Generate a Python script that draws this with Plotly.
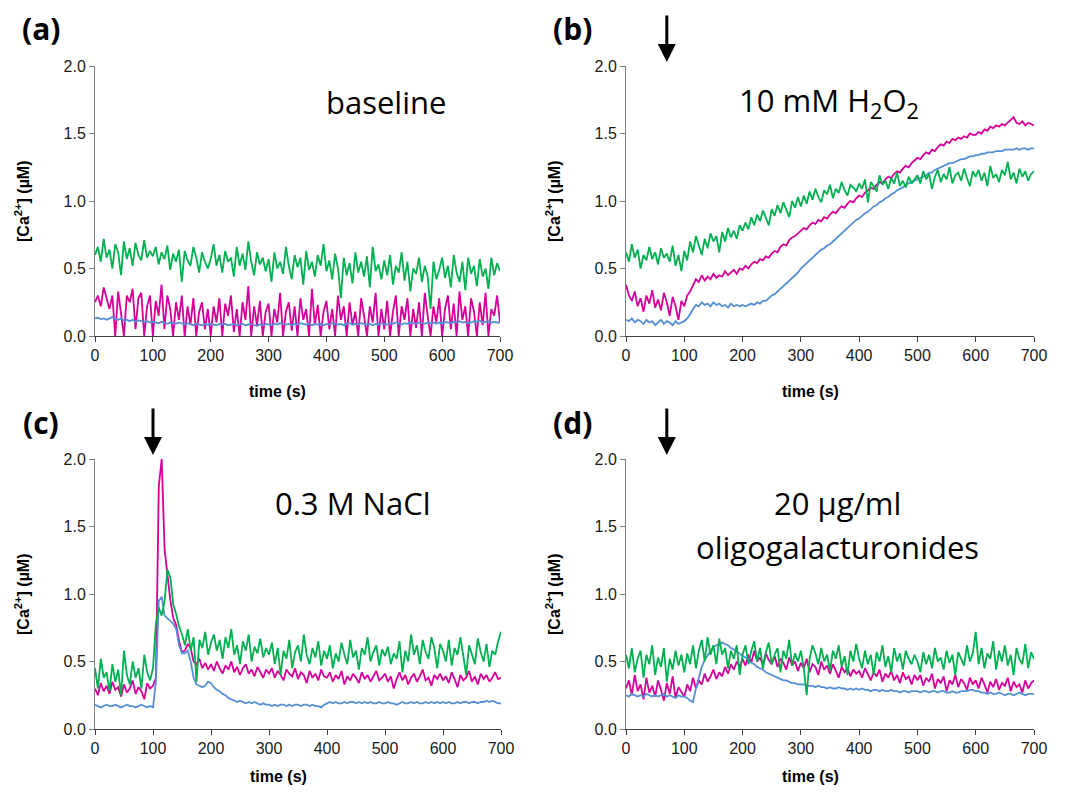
import plotly.graph_objects as go

# time grid (s)
time_s = list(range(0, 705, 5))

# ---------- (a) baseline ----------
a_green = [0.60,0.66,0.55,0.72,0.58,0.64,0.50,0.68,0.62,0.45,0.70,0.57,0.65,0.52,0.69,0.60,0.56,0.71,0.58,0.63,
           0.59,0.66,0.53,0.62,0.57,0.67,0.49,0.61,0.55,0.64,0.40,0.63,0.56,0.52,0.66,0.58,0.47,0.62,0.55,0.50,
           0.57,0.68,0.52,0.60,0.47,0.63,0.55,0.58,0.44,0.66,0.52,0.61,0.49,0.70,0.55,0.45,0.62,0.53,0.58,0.48,
           0.57,0.40,0.62,0.50,0.55,0.46,0.66,0.52,0.42,0.60,0.51,0.58,0.38,0.63,0.49,0.55,0.44,0.60,0.52,0.68,
           0.48,0.56,0.42,0.61,0.50,0.28,0.58,0.45,0.54,0.39,0.62,0.47,0.55,0.44,0.59,0.36,0.66,0.48,0.53,0.42,
           0.56,0.45,0.60,0.38,0.52,0.47,0.62,0.41,0.55,0.33,0.50,0.46,0.58,0.40,0.52,0.44,0.20,0.55,0.42,0.49,
           0.58,0.43,0.52,0.36,0.60,0.47,0.40,0.55,0.34,0.58,0.46,0.52,0.37,0.57,0.44,0.50,0.35,0.58,0.45,0.54,
           0.48]
a_magenta = [0.25,0.30,0.22,0.36,0.28,0.20,0.30,0.00,0.33,0.18,0.00,0.30,0.25,0.35,0.05,0.28,0.32,0.00,0.22,0.30,
             0.00,0.26,0.15,0.38,0.05,0.30,0.20,0.00,0.25,0.12,0.30,0.00,0.22,0.08,0.28,0.00,0.18,0.25,0.05,0.20,
             0.00,0.22,0.10,0.28,0.00,0.24,0.15,0.30,0.03,0.20,0.00,0.25,0.12,0.37,0.00,0.22,0.08,0.26,0.00,0.18,
             0.24,0.00,0.20,0.10,0.32,0.00,0.18,0.25,0.04,0.22,0.00,0.28,0.12,0.20,0.00,0.35,0.08,0.23,0.00,0.18,
             0.26,0.05,0.20,0.00,0.30,0.12,0.22,0.00,0.25,0.08,0.18,0.00,0.28,0.15,0.00,0.22,0.10,0.32,0.00,0.20,
             0.05,0.26,0.00,0.18,0.30,0.00,0.22,0.12,0.28,0.00,0.20,0.06,0.25,0.00,0.32,0.15,0.00,0.22,0.10,0.28,
             0.00,0.20,0.30,0.05,0.24,0.00,0.33,0.12,0.22,0.00,0.28,0.18,0.00,0.25,0.08,0.32,0.00,0.20,0.15,0.30,
             0.10]
a_blue = [0.13,0.135,0.125,0.13,0.12,0.13,0.14,0.125,0.12,0.13,0.115,0.12,0.11,0.12,0.105,0.115,0.11,0.105,0.11,0.10,
          0.105,0.10,0.095,0.105,0.10,0.09,0.10,0.095,0.09,0.10,0.09,0.085,0.095,0.09,0.08,0.09,0.085,0.08,0.09,0.085,
          0.09,0.085,0.08,0.09,0.085,0.09,0.08,0.085,0.09,0.08,0.085,0.09,0.08,0.085,0.09,0.08,0.075,0.085,0.08,0.09,
          0.085,0.08,0.09,0.085,0.095,0.09,0.085,0.09,0.08,0.09,0.085,0.095,0.09,0.085,0.09,0.08,0.09,0.085,0.09,0.08,
          0.09,0.085,0.095,0.09,0.085,0.09,0.08,0.09,0.095,0.085,0.09,0.085,0.095,0.09,0.085,0.09,0.08,0.09,0.085,0.095,
          0.09,0.085,0.095,0.09,0.10,0.09,0.085,0.095,0.09,0.10,0.095,0.09,0.10,0.095,0.09,0.10,0.095,0.10,0.09,0.10,
          0.095,0.105,0.10,0.095,0.105,0.10,0.11,0.10,0.105,0.095,0.10,0.11,0.105,0.115,0.10,0.105,0.11,0.10,0.105,0.10,
          0.10]

# ---------- (b) 10 mM H2O2 ----------
b_green = [0.62,0.55,0.68,0.58,0.64,0.50,0.60,0.56,0.66,0.57,0.62,0.53,0.65,0.58,0.61,0.55,0.67,0.52,0.60,0.48,
           0.63,0.56,0.70,0.62,0.74,0.66,0.60,0.72,0.65,0.76,0.70,0.74,0.62,0.77,0.70,0.80,0.73,0.78,0.72,0.82,
           0.78,0.84,0.79,0.88,0.82,0.90,0.85,0.93,0.87,0.82,0.94,0.89,0.97,0.91,0.99,0.93,0.88,1.00,0.95,1.03,
           0.96,1.04,0.98,1.07,1.01,1.09,1.03,0.99,1.08,1.05,1.12,1.02,1.09,1.06,1.14,1.08,1.04,1.12,1.10,1.07,
           1.13,1.09,1.16,0.99,1.14,1.11,1.07,1.19,1.12,1.15,1.09,1.17,1.13,1.21,1.11,1.15,1.10,1.18,1.13,1.16,
           1.19,1.13,1.22,1.16,1.20,1.09,1.18,1.23,1.14,1.20,1.16,1.25,1.13,1.19,1.21,1.15,1.24,1.17,1.11,1.22,
           1.18,1.23,1.15,1.21,1.11,1.26,1.17,1.20,1.14,1.23,1.19,1.29,1.16,1.21,1.13,1.24,1.18,1.22,1.15,1.20,
           1.22]
b_magenta = [0.38,0.30,0.26,0.33,0.22,0.28,0.18,0.30,0.24,0.34,0.21,0.27,0.19,0.32,0.25,0.15,0.29,0.22,0.12,0.26,
             0.22,0.30,0.33,0.38,0.42,0.40,0.45,0.41,0.44,0.42,0.46,0.43,0.45,0.44,0.48,0.45,0.47,0.49,0.46,0.50,
             0.49,0.52,0.50,0.53,0.55,0.54,0.57,0.56,0.59,0.58,0.61,0.63,0.62,0.66,0.68,0.67,0.71,0.73,0.74,0.76,
             0.78,0.80,0.79,0.82,0.84,0.83,0.86,0.85,0.88,0.87,0.90,0.92,0.91,0.94,0.96,0.95,0.98,1.00,0.99,1.02,
             1.04,1.03,1.06,1.08,1.10,1.09,1.12,1.14,1.13,1.16,1.18,1.17,1.20,1.22,1.21,1.24,1.26,1.25,1.28,1.30,
             1.32,1.31,1.34,1.36,1.35,1.38,1.37,1.40,1.42,1.41,1.44,1.43,1.46,1.45,1.47,1.46,1.48,1.47,1.50,1.49,
             1.49,1.51,1.50,1.53,1.52,1.55,1.54,1.56,1.55,1.57,1.56,1.58,1.60,1.62,1.58,1.57,1.59,1.56,1.58,1.57,
             1.56]
b_blue = [0.12,0.11,0.13,0.10,0.12,0.11,0.09,0.12,0.10,0.11,0.08,0.10,0.12,0.09,0.11,0.10,0.08,0.11,0.09,0.10,
          0.11,0.13,0.16,0.20,0.23,0.22,0.25,0.23,0.24,0.22,0.25,0.23,0.24,0.22,0.23,0.21,0.24,0.22,0.23,0.22,
          0.23,0.22,0.23,0.24,0.23,0.25,0.24,0.26,0.26,0.28,0.30,0.31,0.33,0.35,0.37,0.39,0.41,0.43,0.45,0.47,
          0.50,0.52,0.54,0.56,0.58,0.60,0.62,0.64,0.65,0.67,0.68,0.70,0.72,0.74,0.76,0.78,0.80,0.82,0.84,0.86,
          0.87,0.89,0.91,0.92,0.94,0.96,0.97,0.99,1.00,1.02,1.03,1.05,1.06,1.08,1.09,1.10,1.12,1.13,1.14,1.15,
          1.16,1.17,1.18,1.19,1.21,1.21,1.23,1.24,1.25,1.26,1.27,1.28,1.28,1.29,1.30,1.31,1.31,1.32,1.33,1.33,
          1.34,1.34,1.35,1.35,1.36,1.36,1.36,1.37,1.37,1.37,1.38,1.38,1.38,1.38,1.39,1.38,1.39,1.39,1.38,1.39,
          1.39]

# ---------- (c) 0.3 M NaCl ----------
c_green = [0.45,0.30,0.52,0.38,0.42,0.28,0.48,0.35,0.44,0.25,0.58,0.40,0.33,0.50,0.38,0.45,0.30,0.55,0.42,0.36,
           0.45,0.78,0.90,0.84,0.95,1.18,1.12,0.92,0.85,0.76,0.70,0.62,0.74,0.58,0.68,0.35,0.66,0.60,0.72,0.55,
           0.64,0.70,0.58,0.66,0.52,0.68,0.60,0.74,0.55,0.62,0.48,0.65,0.58,0.70,0.50,0.61,0.56,0.67,0.53,0.60,
           0.55,0.64,0.48,0.60,0.40,0.58,0.52,0.66,0.45,0.57,0.62,0.50,0.70,0.55,0.48,0.60,0.53,0.65,0.47,0.58,
           0.52,0.62,0.45,0.56,0.50,0.64,0.55,0.48,0.66,0.53,0.58,0.44,0.60,0.55,0.68,0.50,0.57,0.62,0.47,0.59,
           0.54,0.61,0.48,0.56,0.52,0.65,0.42,0.58,0.50,0.70,0.55,0.62,0.48,0.66,0.57,0.52,0.68,0.60,0.45,0.63,
           0.58,0.50,0.66,0.47,0.60,0.55,0.68,0.52,0.40,0.62,0.55,0.48,0.67,0.57,0.50,0.63,0.46,0.58,0.55,0.65,
           0.72]
c_magenta = [0.30,0.25,0.34,0.28,0.32,0.26,0.35,0.29,0.31,0.24,0.33,0.27,0.30,0.36,0.26,0.31,0.28,0.22,0.34,0.30,
             0.32,0.38,1.80,2.00,1.33,1.15,0.95,0.82,0.77,0.65,0.57,0.58,0.63,0.60,0.50,0.48,0.52,0.45,0.49,0.44,
             0.48,0.43,0.50,0.45,0.41,0.47,0.44,0.50,0.42,0.46,0.40,0.45,0.48,0.41,0.44,0.39,0.46,0.42,0.38,0.44,
             0.41,0.45,0.38,0.43,0.40,0.36,0.44,0.41,0.39,0.45,0.37,0.42,0.40,0.34,0.43,0.38,0.41,0.36,0.44,0.39,
             0.38,0.42,0.35,0.40,0.37,0.43,0.33,0.39,0.36,0.41,0.38,0.34,0.42,0.37,0.40,0.35,0.39,0.43,0.36,0.38,
             0.41,0.35,0.39,0.30,0.37,0.42,0.36,0.40,0.33,0.38,0.41,0.35,0.39,0.44,0.36,0.38,0.32,0.40,0.37,0.41,
             0.36,0.39,0.34,0.42,0.37,0.31,0.40,0.36,0.38,0.43,0.35,0.39,0.33,0.41,0.37,0.40,0.35,0.38,0.42,0.37,
             0.38]
c_blue = [0.18,0.17,0.16,0.17,0.18,0.17,0.17,0.18,0.17,0.16,0.17,0.18,0.17,0.17,0.16,0.17,0.18,0.17,0.16,0.17,
          0.16,0.35,0.95,0.98,0.84,0.82,0.80,0.78,0.74,0.62,0.56,0.56,0.58,0.50,0.38,0.33,0.32,0.31,0.32,0.35,
          0.34,0.31,0.29,0.28,0.26,0.25,0.23,0.22,0.21,0.20,0.21,0.20,0.19,0.20,0.19,0.20,0.19,0.18,0.19,0.18,
          0.18,0.17,0.18,0.17,0.18,0.18,0.17,0.18,0.17,0.18,0.18,0.17,0.18,0.18,0.17,0.18,0.17,0.17,0.16,0.18,
          0.19,0.20,0.19,0.20,0.19,0.19,0.20,0.19,0.20,0.20,0.19,0.20,0.19,0.20,0.19,0.20,0.19,0.19,0.20,0.19,
          0.19,0.20,0.19,0.19,0.18,0.19,0.20,0.19,0.19,0.20,0.19,0.20,0.19,0.19,0.20,0.19,0.20,0.19,0.20,0.19,
          0.20,0.19,0.20,0.19,0.19,0.20,0.19,0.20,0.20,0.19,0.20,0.20,0.19,0.20,0.20,0.21,0.20,0.21,0.20,0.19,
          0.19]

# ---------- (d) 20 µg/ml oligogalacturonides ----------
d_green = [0.55,0.45,0.60,0.42,0.52,0.58,0.38,0.55,0.48,0.62,0.40,0.53,0.46,0.60,0.35,0.52,0.44,0.58,0.47,0.55,
           0.42,0.56,0.48,0.62,0.45,0.58,0.66,0.50,0.68,0.55,0.62,0.48,0.67,0.55,0.60,0.45,0.58,0.52,0.62,0.40,
           0.55,0.62,0.48,0.58,0.65,0.50,0.60,0.45,0.57,0.64,0.48,0.55,0.60,0.42,0.58,0.52,0.66,0.47,0.56,0.50,
           0.58,0.45,0.25,0.52,0.62,0.56,0.48,0.60,0.50,0.55,0.43,0.58,0.52,0.62,0.46,0.54,0.40,0.58,0.50,0.63,
           0.52,0.45,0.58,0.48,0.55,0.40,0.57,0.50,0.62,0.46,0.54,0.42,0.60,0.50,0.56,0.44,0.58,0.52,0.48,0.55,
           0.50,0.42,0.57,0.48,0.55,0.45,0.60,0.50,0.53,0.44,0.58,0.49,0.55,0.40,0.57,0.52,0.47,0.62,0.50,0.56,
           0.72,0.48,0.60,0.45,0.56,0.52,0.65,0.44,0.58,0.50,0.62,0.47,0.55,0.40,0.60,0.52,0.48,0.63,0.45,0.57,
           0.52]
d_magenta = [0.30,0.36,0.25,0.40,0.28,0.33,0.22,0.38,0.27,0.32,0.24,0.36,0.29,0.21,0.34,0.26,0.39,0.23,0.31,0.27,
             0.24,0.33,0.28,0.38,0.30,0.36,0.33,0.41,0.35,0.39,0.44,0.37,0.42,0.39,0.46,0.41,0.48,0.44,0.50,0.46,
             0.52,0.47,0.55,0.49,0.58,0.50,0.53,0.47,0.56,0.51,0.48,0.54,0.46,0.52,0.49,0.44,0.53,0.47,0.50,0.43,
             0.49,0.45,0.52,0.42,0.48,0.46,0.40,0.50,0.44,0.47,0.41,0.48,0.43,0.38,0.46,0.42,0.45,0.39,0.44,0.41,
             0.43,0.38,0.45,0.40,0.36,0.42,0.39,0.44,0.35,0.41,0.38,0.43,0.36,0.40,0.34,0.42,0.37,0.39,0.33,0.40,
             0.36,0.40,0.32,0.38,0.35,0.41,0.30,0.37,0.34,0.39,0.28,0.36,0.33,0.40,0.31,0.37,0.34,0.29,0.38,0.33,
             0.36,0.30,0.38,0.33,0.27,0.35,0.31,0.37,0.29,0.34,0.32,0.38,0.28,0.35,0.31,0.33,0.27,0.36,0.30,0.34,
             0.36]
d_blue = [0.25,0.24,0.26,0.25,0.24,0.25,0.24,0.26,0.25,0.24,0.25,0.24,0.25,0.26,0.24,0.25,0.24,0.23,0.25,0.24,
          0.24,0.23,0.21,0.20,0.30,0.38,0.46,0.51,0.55,0.58,0.61,0.62,0.63,0.64,0.63,0.62,0.60,0.59,0.57,0.56,
          0.54,0.53,0.51,0.49,0.48,0.46,0.45,0.44,0.42,0.41,0.40,0.39,0.38,0.37,0.36,0.36,0.35,0.34,0.34,0.33,
          0.33,0.33,0.32,0.32,0.32,0.31,0.32,0.31,0.31,0.30,0.31,0.30,0.30,0.31,0.30,0.30,0.29,0.30,0.29,0.30,
          0.29,0.30,0.29,0.29,0.28,0.29,0.29,0.28,0.29,0.28,0.28,0.29,0.28,0.28,0.27,0.28,0.28,0.27,0.28,0.28,
          0.28,0.27,0.28,0.28,0.27,0.28,0.28,0.27,0.28,0.28,0.27,0.27,0.28,0.27,0.27,0.28,0.28,0.28,0.29,0.29,
          0.28,0.28,0.27,0.27,0.26,0.27,0.26,0.26,0.27,0.26,0.25,0.26,0.26,0.25,0.26,0.27,0.26,0.25,0.26,0.26,
          0.26]

panel_labels = ["(a)", "(b)", "(c)", "(d)"]
treatments = ["baseline", "10 mM H<sub>2</sub>O<sub>2</sub>", "0.3 M NaCl", "20 µg/ml"]
stimulus_time = [None, 70, 100, 70]
x_ticks = [0, 100, 200, 300, 400, 500, 600, 700]
y_ticks = [0.0, 0.5, 1.0, 1.5, 2.0]

series = [
    (a_magenta, a_blue, a_green),
    (b_magenta, b_blue, b_green),
    (c_magenta, c_blue, c_green),
    (d_magenta, d_blue, d_green),
]
colors = ["#D4009A", "#558ED5", "#00B050"]

# page is 1068x794; the html body has an 8 px margin, so the figure is 16 px smaller
OFF = 8
FW, FH = 1068 - 2 * OFF, 794 - 2 * OFF


def px(xp):
    return (xp - OFF) / FW


def py(yp):
    return 1 - (yp - OFF) / FH


# plot-area boxes in page pixels: left, right, top, bottom
boxes = [(95, 500, 66, 336), (626, 1034, 66, 336), (95, 501, 459, 729), (626, 1034, 459, 729)]
xtitle_y = [391, 391, 776, 776]

fig = go.Figure()
layout = dict(
    width=FW, height=FH, margin=dict(l=0, r=0, t=0, b=0, pad=0, autoexpand=False),
    paper_bgcolor="white", plot_bgcolor="white", showlegend=False,
)

tickfont = dict(family="Arial, Liberation Sans, sans-serif", size=16, color="#1a1a1a")
annotations = []

for i, (box, trio) in enumerate(zip(boxes, series)):
    n = i + 1
    xa = "xaxis" if n == 1 else f"xaxis{n}"
    ya = "yaxis" if n == 1 else f"yaxis{n}"
    xr = "x" if n == 1 else f"x{n}"
    yr = "y" if n == 1 else f"y{n}"
    l, r, t, b = box
    layout[xa] = dict(domain=[px(l), px(r)], anchor=yr, range=[0, 700], tickvals=x_ticks,
                      showline=True, linecolor="#404040", linewidth=1, ticks="outside", ticklen=5,
                      tickcolor="#404040", tickfont=tickfont, showgrid=False, zeroline=False,
                      fixedrange=True, automargin=False)
    layout[ya] = dict(domain=[py(b), py(t)], anchor=xr, range=[0, 2], tickvals=y_ticks,
                      tickformat=".1f", showline=True, linecolor="#7f7f7f", linewidth=1, ticks="outside",
                      ticklen=5, tickcolor="#7f7f7f", tickfont=tickfont, showgrid=False, zeroline=False,
                      fixedrange=True, automargin=False)
    for ys, col in zip(trio, colors):
        fig.add_trace(go.Scatter(x=time_s, y=ys, mode="lines", line=dict(color=col, width=1.8),
                                 xaxis=xr, yaxis=yr, hoverinfo="skip"))

    # panel label
    annotations.append(dict(text="<b>" + panel_labels[i] + "</b>", xref="paper", yref="paper",
                            x=px(l - 54), y=py(t - 37), xanchor="center", yanchor="middle",
                            showarrow=False, font=dict(family="Open Sans", size=30, color="black")))
    # axis titles
    annotations.append(dict(text="<b>[Ca<sup>2+</sup>] (µM)</b>", xref="paper", yref="paper",
                            x=px(l - 73), y=py((t + b) / 2), textangle=-90,
                            xanchor="center", yanchor="middle", showarrow=False,
                            font=dict(family="Arial, Liberation Sans, sans-serif", size=16, color="black")))
    annotations.append(dict(text="<b>time (s)</b>", xref="paper", yref="paper",
                            x=px((l + r) / 2 - 20), y=py(xtitle_y[i]),
                            xanchor="center", yanchor="middle", showarrow=False,
                            font=dict(family="Arial, Liberation Sans, sans-serif", size=16, color="black")))
    # stimulus arrow
    if stimulus_time[i] is not None:
        annotations.append(dict(text="", x=stimulus_time[i], xref=xr, y=py(t - 4), yref="paper",
                                showarrow=True, ax=0, ay=-48, arrowhead=2, arrowsize=1.2, arrowwidth=3,
                                arrowcolor="black", standoff=0))

txt_font = dict(family="Open Sans", size=31, color="black")
annotations.append(dict(text=treatments[0], xref="paper", yref="paper", x=px(386), y=py(102),
                        xanchor="center", yanchor="middle", showarrow=False, font=txt_font))
annotations.append(dict(text=treatments[1], xref="paper", yref="paper", x=px(829), y=py(102),
                        xanchor="center", yanchor="middle", showarrow=False, font=txt_font))
annotations.append(dict(text=treatments[2], xref="paper", yref="paper", x=px(353), y=py(503),
                        xanchor="center", yanchor="middle", showarrow=False, font=txt_font))
annotations.append(dict(text=treatments[3], xref="paper", yref="paper", x=px(837), y=py(503),
                        xanchor="center", yanchor="middle", showarrow=False, font=txt_font))
annotations.append(dict(text="oligogalacturonides", xref="paper", yref="paper", x=px(837), y=py(547),
                        xanchor="center", yanchor="middle", showarrow=False, font=txt_font))

layout["annotations"] = annotations
fig.update_layout(**layout)
fig.write_html("out.html")
